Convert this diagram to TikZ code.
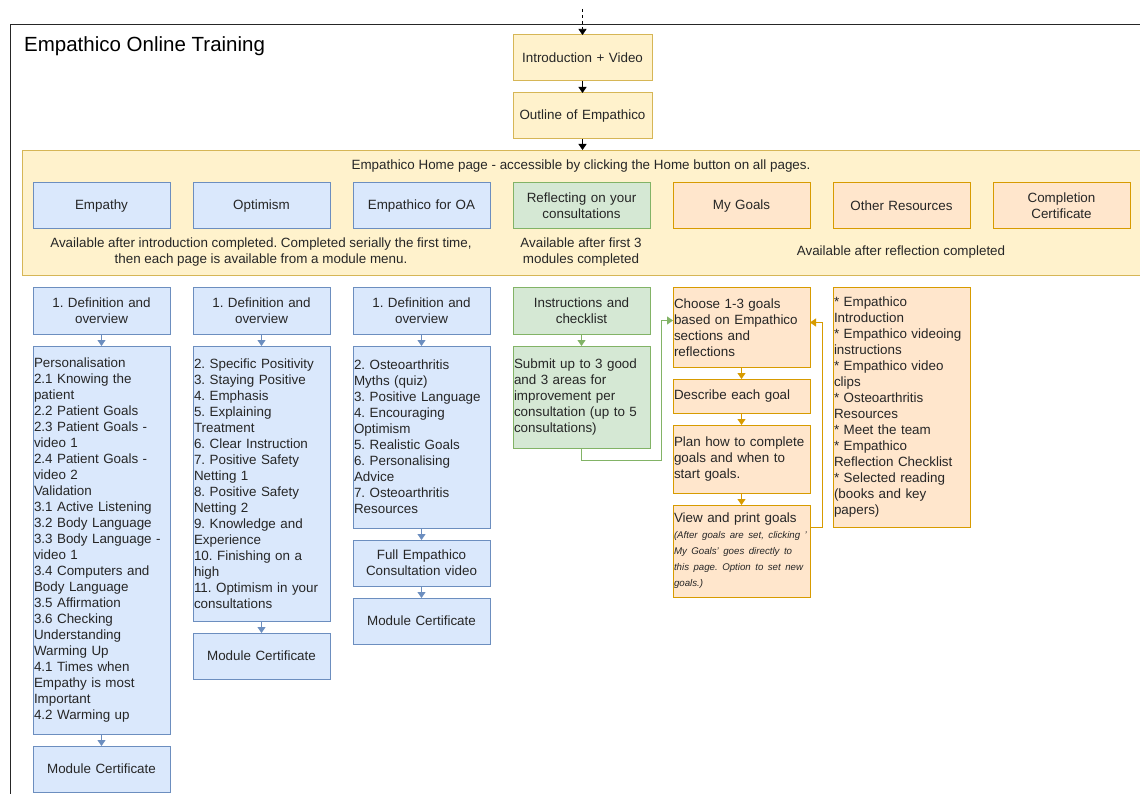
\documentclass[tikz,border=0pt]{standalone}
\usepackage{fontspec}
\setmainfont{Liberation Sans}
\usetikzlibrary{arrows.meta,positioning}

\definecolor{blueFill}{HTML}{DAE8FC}
\definecolor{blueLine}{HTML}{6C8EBF}
\definecolor{greenFill}{HTML}{D5E8D4}
\definecolor{greenLine}{HTML}{82B366}
\definecolor{orangeFill}{HTML}{FFE6CC}
\definecolor{orangeLine}{HTML}{D79B00}
\definecolor{yellowFill}{HTML}{FFF2CC}
\definecolor{yellowLine}{HTML}{D6B656}

\frenchspacing

\begin{document}
\begin{tikzpicture}[x=1pt,y=-1pt]
		\tikzstyle{box}=[rectangle, line width=1pt, text width=135pt, inner xsep=1pt, inner ysep=0pt, outer sep=0pt, minimum height=46pt, align=center, text=black!85, font=\fontsize{13.4}{16}\selectfont]
		\tikzstyle{module}=[box, draw=blueLine, fill=blueFill]
		\tikzstyle{reflect}=[box, draw=greenLine, fill=greenFill]
		\tikzstyle{goal}=[box, draw=orangeLine, fill=orangeFill]
		\tikzstyle{intro}=[box, text width=137pt, draw=yellowLine, fill=yellowFill]
		\tikzstyle{list}=[align=left]
		\tikzstyle{label}=[inner sep=0pt, align=center, text=black!85, font=\fontsize{13.4}{16}\selectfont]
		\tikzstyle{tip}=[-{Triangle[length=6pt,width=8pt]}, line width=1pt]
		\tikzstyle{blueArrow}=[tip, draw=blueLine]
		\tikzstyle{greenArrow}=[tip, draw=greenLine]
		\tikzstyle{orangeArrow}=[tip, draw=orangeLine]
		\tikzstyle{blackArrow}=[tip, draw=black]

		\clip (0,0) rectangle (1140,794);
		\fill[white] (0,0) rectangle (1140,794);

		% frame and home page
		\node (frame) [anchor=north west, draw=black!85, line width=1.3pt, minimum width=1200pt, minimum height=800pt, inner sep=0pt] at (10,24) {};
		\node (title) [anchor=west, inner sep=0pt, font=\fontsize{20.5}{24}\selectfont] at (24,46) {Empathico Online Training};
		\node (home) [anchor=north west, draw=yellowLine, fill=yellowFill, line width=1pt, minimum width=1140pt, minimum height=125pt, inner sep=0pt] at (22,150) {};
		\node (homeText) [label] at (581,166) {Empathico Home page - accessible by clicking the Home button on all pages.};

		% start
		\coordinate (start) at (582.5,9);
		\node [intro] (intro) at (582.5,58) {Introduction + Video};
		\node [intro] (outline) [below=12pt of intro] {Outline of Empathico};

		% home page buttons
		\node [module] (empathy) at (101.5,206) {Empathy};
		\node [module] (optimism) [right=23pt of empathy] {Optimism};
		\node [module] (oa) [right=23pt of optimism] {Empathico for OA};
		\node [reflect] (reflecting) [right=23pt of oa] {Reflecting on your\\consultations};
		\node [goal] (myGoals) [right=23pt of reflecting] {My Goals};
		\node [goal] (otherRes) [right=23pt of myGoals] {Other Resources};
		\node [goal] (completion) [right=23pt of otherRes] {Completion\\Certificate};

		\node (modText) [label] at (261,252) {Available after introduction completed. Completed serially the first time,\\then each page is available from a module menu.};
		\node (reflText) [label] at (581,252) {Available after first 3\\modules completed};
		\node (goalText) [label] at (901,252) {Available after reflection completed};

		% empathy module
		\node [module] (empDef) [below=59pt of empathy] {1. Definition and\\overview};
		\node [module, list, minimum height=388pt] (empList) [below=12pt of empDef] {Personalisation\\2.1 Knowing the\\patient\\2.2 Patient Goals\\2.3 Patient Goals -\\video 1\\2.4 Patient Goals -\\video 2\\Validation\\3.1 Active Listening\\3.2 Body Language\\3.3 Body Language -\\video 1\\3.4 Computers and\\Body Language\\3.5 Affirmation\\3.6 Checking\\Understanding\\Warming Up\\4.1 Times when\\Empathy is most\\Important\\4.2 Warming up};
		\node [module] (empCert) [below=12pt of empList] {Module Certificate};

		% optimism module
		\node [module] (optDef) [below=59pt of optimism] {1. Definition and\\overview};
		\node [module, list, minimum height=275pt] (optList) [below=12pt of optDef] {2. Specific Positivity\\3. Staying Positive\\4. Emphasis\\5. Explaining\\Treatment\\6. Clear Instruction\\7. Positive Safety\\Netting 1\\8. Positive Safety\\Netting 2\\9. Knowledge and\\Experience\\10. Finishing on a\\high\\11. Optimism in your\\consultations};
		\node [module] (optCert) [below=12pt of optList] {Module Certificate};

		% OA module
		\node [module] (oaDef) [below=59pt of oa] {1. Definition and\\overview};
		\node [module, list, minimum height=182pt] (oaList) [below=12pt of oaDef] {2. Osteoarthritis\\Myths (quiz)\\3. Positive Language\\4. Encouraging\\Optimism\\5. Realistic Goals\\6. Personalising\\Advice\\7. Osteoarthritis\\Resources};
		\node [module] (oaVideo) [below=12pt of oaList] {Full Empathico\\Consultation video};
		\node [module] (oaCert) [below=12pt of oaVideo] {Module Certificate};

		% reflection
		\node [reflect] (reflInstr) [below=59pt of reflecting] {Instructions and\\checklist};
		\node [reflect, list, minimum height=102pt] (reflSubmit) [below=12pt of reflInstr] {Submit up to 3 good\\and 3 areas for\\improvement per\\consultation (up to 5\\consultations)};

		% goals
		\node [goal, list, minimum height=79pt] (goalChoose) [below=59pt of myGoals] {Choose 1-3 goals\\based on Empathico\\sections and\\reflections};
		\node [goal, list, minimum height=34pt] (goalDescribe) [below=12pt of goalChoose] {Describe each goal};
		\node [goal, list, minimum height=68pt] (goalPlan) [below=12pt of goalDescribe] {Plan how to complete\\goals and when to\\start goals.};
		\node [goal, list, minimum height=92pt] (goalView) [below=12pt of goalPlan] {View and print goals\\{\fontsize{9.7}{16}\selectfont\itshape (After goals are set, clicking '\\My Goals' goes directly to\\this page. Option to set new\\goals.)}};

		% other resources
		\node [goal, list, minimum height=239pt] (otherList) [below=59pt of otherRes] {{*} Empathico\\Introduction\\{*} Empathico videoing\\instructions\\{*} Empathico video\\clips\\{*} Osteoarthritis\\Resources\\{*} Meet the team\\{*} Empathico\\Reflection Checklist\\{*} Selected reading\\(books and key\\papers)};

		% connectors
		\draw [blackArrow, dashed, line width=0.6pt] (start) -- (intro);
		\draw [blackArrow] (intro) -- (outline);
		\draw [blackArrow] (outline) -- (outline.south |- home.north);

		\draw [blueArrow] (empDef) -- (empList);
		\draw [blueArrow] (empList) -- (empCert);
		\draw [blueArrow] (optDef) -- (optList);
		\draw [blueArrow] (optList) -- (optCert);
		\draw [blueArrow] (oaDef) -- (oaList);
		\draw [blueArrow] (oaList) -- (oaVideo);
		\draw [blueArrow] (oaVideo) -- (oaCert);

		\draw [greenArrow] (reflInstr) -- (reflSubmit);
		\draw [greenArrow] (reflSubmit.south) -- ++(0,12) -- ++(80,0) |- ([yshift=7pt]goalChoose.west);

		\draw [orangeArrow] (goalChoose) -- (goalDescribe);
		\draw [orangeArrow] (goalDescribe) -- (goalPlan);
		\draw [orangeArrow] (goalPlan) -- (goalView);
		\draw [orangeArrow] ([yshift=24pt]goalView.east) -- ++(12,0) |- ([yshift=5pt]goalChoose.east);

	\end{tikzpicture}
\end{document}
